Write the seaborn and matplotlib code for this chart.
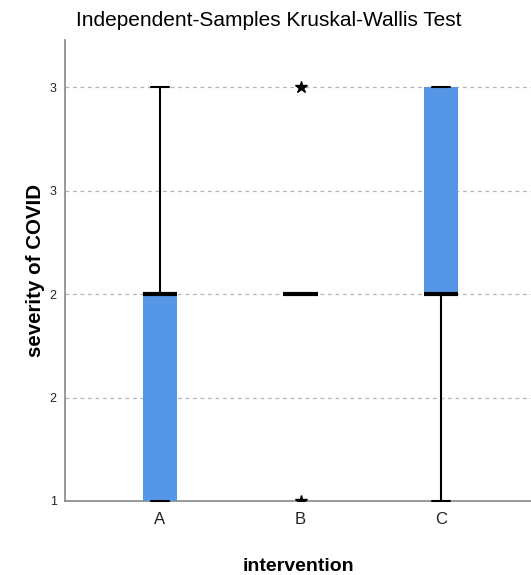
import numpy as np
import pandas as pd
import matplotlib
matplotlib.use("Agg")
import matplotlib.pyplot as plt
import seaborn as sns

# severity of COVID per intervention group (ordinal 1..3)
group_a = [1, 1, 1, 2, 2, 2, 2, 3]
group_b = [1, 2, 2, 2, 2, 2, 2, 3]
group_c = [1, 2, 2, 2, 2, 3, 3, 3]
groups = ["A", "B", "C"]

y_ticks = [1, 1.5, 2, 2.5, 3]
y_tick_labels = ["1", "2", "2", "3", "3"]

df = pd.DataFrame({
    "intervention": np.repeat(groups, [len(group_a), len(group_b), len(group_c)]),
    "severity": group_a + group_b + group_c,
})

sns.set_style("white")
plt.rcParams["font.family"] = ["Liberation Sans", "DejaVu Sans"]

fig = plt.figure(figsize=(5.31, 5.75), dpi=100)
ax = fig.add_axes([0.1224, 0.1287, 0.8776, 0.8017])

box_blue = "#5596E6"

for y in y_ticks:
    ax.axhline(y, color="#b4b4b4", linestyle=(0, (3, 3)), linewidth=0.9, zorder=0)

sns.boxplot(
    data=df, x="intervention", y="severity", order=groups,
    color=box_blue, width=0.245, linecolor="black", linewidth=1.5,
    whis=1.5, saturation=1, ax=ax,
    boxprops=dict(edgecolor="none", linewidth=0),
    medianprops=dict(color="black", linewidth=3),
    capprops=dict(clip_on=False),
    flierprops=dict(marker="*", markerfacecolor="black", markeredgecolor="black",
                    markersize=9),
)

ax.set_xlim(-0.676, 2.64)
ax.set_ylim(1, 3.227)
ax.set_yticks(y_ticks)
ax.set_yticklabels(y_tick_labels)

for s in ["top", "right"]:
    ax.spines[s].set_visible(False)
for s in ["left", "bottom"]:
    ax.spines[s].set_color("#888888")
    ax.spines[s].set_linewidth(1.2)
    ax.spines[s].set_zorder(1)

ax.tick_params(axis="y", length=0, labelsize=9, colors="#222222", pad=6)
ax.tick_params(axis="x", length=0, labelsize=12, colors="#222222", pad=8)

fig.text(269 / 531, 1 - 20 / 575, "Independent-Samples Kruskal-Wallis Test",
         fontsize=15, color="black", ha="center", va="center")
ax.set_xlabel("intervention", fontsize=14, fontweight="bold", color="black", labelpad=22)
ax.set_ylabel("severity of COVID", fontsize=14.8, fontweight="bold", color="black", labelpad=3)

fig.savefig("out.png", dpi=100)
